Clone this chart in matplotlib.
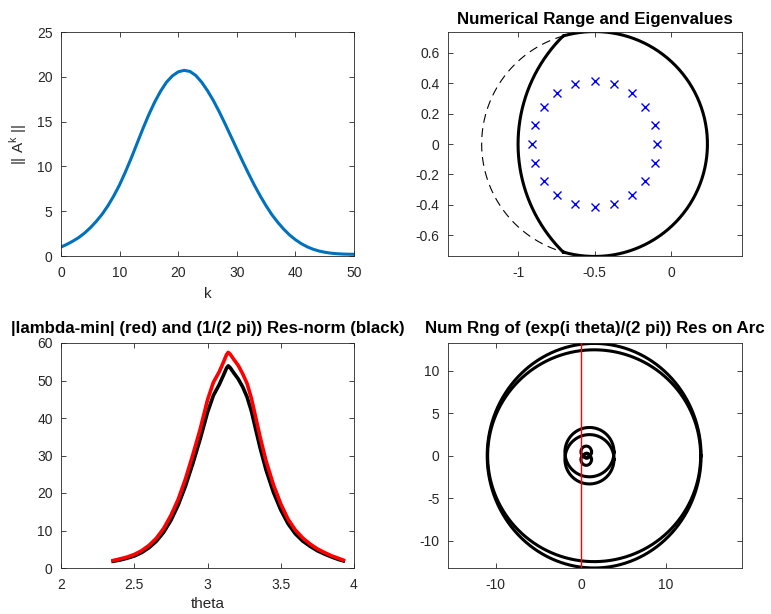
import numpy as np
import matplotlib
matplotlib.use("Agg")
import matplotlib.pyplot as plt

plt.rcParams['font.family'] = ['Liberation Sans', 'DejaVu Sans']
plt.rcParams['font.size'] = 10
plt.rcParams['axes.unicode_minus'] = False
AX_COL = '#262626'
plt.rcParams['axes.edgecolor'] = AX_COL
plt.rcParams['axes.linewidth'] = 0.6
plt.rcParams['xtick.color'] = AX_COL
plt.rcParams['ytick.color'] = AX_COL
plt.rcParams['xtick.direction'] = 'in'
plt.rcParams['ytick.direction'] = 'in'
plt.rcParams['xtick.top'] = True
plt.rcParams['ytick.right'] = True
plt.rcParams['xtick.major.size'] = 3.5
plt.rcParams['ytick.major.size'] = 3.5
plt.rcParams['xtick.major.width'] = 0.6
plt.rcParams['ytick.major.width'] = 0.6
plt.rcParams['xtick.major.pad'] = 7
plt.rcParams['ytick.major.pad'] = 6

# ---- power norms ||A^k||, k = 0..50 ----
k_vals = list(range(51))
power_norms = [1.00, 1.30, 1.65, 2.05, 2.55, 3.15, 3.85, 4.65, 5.60, 6.70,
               7.95, 9.40, 10.95, 12.6, 14.25, 15.8, 17.2, 18.4, 19.4, 20.1,
               20.55, 20.72, 20.6, 20.15, 19.4, 18.45, 17.35, 16.1, 14.75, 13.35,
               11.95, 10.55, 9.2, 7.9, 6.7, 5.6, 4.6, 3.75, 3.0, 2.35,
               1.82, 1.38, 1.03, 0.76, 0.56, 0.42, 0.32, 0.26, 0.22, 0.20, 0.19]

# ---- eigenvalues ----
eig_re = [-0.090, -0.108, -0.167, -0.256, -0.371, -0.500, -0.629, -0.744,
          -0.833, -0.892, -0.910, -0.892, -0.833, -0.744, -0.629, -0.500,
          -0.371, -0.256, -0.167, -0.108]
eig_im = [0.000, 0.127, 0.243, 0.333, 0.392, 0.414, 0.392, 0.333,
          0.243, 0.127, 0.000, -0.127, -0.243, -0.333, -0.392, -0.414,
          -0.392, -0.333, -0.243, -0.127]

# numerical range: outer disc (centre, radius) and unit-disc cut-off
range_center = -0.5
range_radius = 0.738
cut_center = 0.0
cut_radius = 1.0

# ---- lambda-min and scaled resolvent norm along the arc ----
theta_vals = [2.356, 2.40, 2.45, 2.50, 2.55, 2.60, 2.65, 2.70, 2.75, 2.80,
              2.85, 2.90, 2.95, 3.00, 3.04, 3.08, 3.11, 3.13, 3.1416, 3.155,
              3.18, 3.21, 3.24, 3.27, 3.30, 3.33, 3.36, 3.40, 3.45, 3.50,
              3.55, 3.60, 3.65, 3.70, 3.75, 3.80, 3.85, 3.90, 3.927]
lambda_min = [2.0, 2.4, 2.9, 3.6, 4.6, 6.0, 7.9, 10.5, 14.0, 18.3,
              23.8, 30.2, 37.0, 44.8, 49.5, 52.3, 55.0, 56.9, 57.5, 57.0,
              55.6, 54.0, 51.8, 49.2, 45.2, 40.0, 34.8, 28.5, 22.2, 17.1,
              13.0, 10.1, 8.0, 6.4, 5.1, 4.1, 3.2, 2.5, 2.1]
res_norm = [1.8, 2.1, 2.6, 3.2, 4.1, 5.4, 7.1, 9.5, 12.7, 16.8,
            21.9, 27.9, 34.4, 41.5, 46.0, 48.9, 51.5, 53.3, 53.9, 53.4,
            52.0, 50.4, 48.3, 45.6, 41.8, 36.8, 31.9, 26.1, 20.2, 15.5,
            11.8, 9.1, 7.2, 5.8, 4.6, 3.7, 2.9, 2.2, 1.9]

# ---- numerical ranges of scaled resolvents (approx. ellipses) ----
nr_cx = [1.55, 1.55, 1.0, 1.0, 0.62, 0.62, 0.68]
nr_cy = [0.0, 0.0, 0.42, -0.42, 0.45, -0.45, 0.0]
nr_rx = [12.55, 12.5, 2.88, 2.88, 0.62, 0.62, 0.3]
nr_ry = [13.2, 12.45, 2.9, 2.9, 0.68, 0.68, 0.3]

fig = plt.figure(figsize=(7.71, 6.14), dpi=100)
W, H = 771, 614
TITLE_KW = dict(fontsize=12.2, fontweight='bold', color='black')


def add_axes(x0, y0, x1, y1):
    return fig.add_axes([x0 / W, 1 - y1 / H, (x1 - x0) / W, (y1 - y0) / H])


# top-left: growth of ||A^k||
ax1 = add_axes(61, 32, 354, 256)
ax1.plot(k_vals, power_norms, color=(0, 0.447, 0.741), lw=2.2)
ax1.set_xlim(0, 50)
ax1.set_ylim(0, 25)
ax1.set_xticks([0, 10, 20, 30, 40, 50])
ax1.set_yticks([0, 5, 10, 15, 20, 25])
ax1.set_xlabel('k', fontsize=11, color=AX_COL, labelpad=5)
ax1.set_ylabel(r'|| A$^{\mathregular{k}}$ ||', fontsize=11, color=AX_COL, labelpad=6)

# top-right: numerical range boundary and eigenvalues
ax2 = add_axes(448, 32, 742, 256)
t_right = np.linspace(-np.radians(105.8), np.radians(105.8), 300)
t_left = np.linspace(np.radians(134.6), np.radians(225.4), 200)
t_dash = np.linspace(np.radians(105.8), np.radians(254.2), 300)
bx = np.concatenate([range_center + range_radius * np.cos(t_right),
                     cut_center + cut_radius * np.cos(t_left),
                     range_center + range_radius * np.cos(t_right[:1])])
by = np.concatenate([range_radius * np.sin(t_right),
                     cut_radius * np.sin(t_left),
                     range_radius * np.sin(t_right[:1])])
ax2.plot(bx, by, color='black', lw=2.2)
ax2.plot(range_center + range_radius * np.cos(t_dash), range_radius * np.sin(t_dash),
         color='black', lw=0.8, dashes=(8, 5))
ax2.plot(eig_re, eig_im, 'x', color='blue', ms=6, mew=1.0)
ax2.set_xlim(-1.458, 0.464)
ax2.set_ylim(-0.735, 0.735)
ax2.set_xticks([-1, -0.5, 0])
ax2.set_xticklabels(['-1', '-0.5', '0'])
ax2.set_yticks([-0.6, -0.4, -0.2, 0, 0.2, 0.4, 0.6])
ax2.set_yticklabels(['-0.6', '-0.4', '-0.2', '0', '0.2', '0.4', '0.6'])
ax2.set_title('Numerical Range and Eigenvalues', pad=6, **TITLE_KW)

# bottom-left: |lambda-min| and scaled resolvent norm
ax3 = add_axes(61, 343, 354, 568)
ax3.plot(theta_vals, res_norm, color='black', lw=2.6)
ax3.plot(theta_vals, lambda_min, color='red', lw=2.6)
ax3.set_xlim(2, 4)
ax3.set_ylim(0, 60)
ax3.set_xticks([2, 2.5, 3, 3.5, 4])
ax3.set_xticklabels(['2', '2.5', '3', '3.5', '4'])
ax3.set_yticks([0, 10, 20, 30, 40, 50, 60])
ax3.set_xlabel('theta', fontsize=11, color=AX_COL, labelpad=4)
ax3.set_title('|lambda-min| (red) and (1/(2 pi)) Res-norm (black)', pad=7, **TITLE_KW)

# bottom-right: numerical ranges along the arc
ax4 = add_axes(448, 343, 742, 568)
t_full = np.linspace(0, 2 * np.pi, 400)
for cx, cy, rx, ry in zip(nr_cx, nr_cy, nr_rx, nr_ry):
    ax4.plot(cx + rx * np.cos(t_full), cy + ry * np.sin(t_full), color='black', lw=2.2)
ax4.axvline(0, color='red', lw=1.0, zorder=5)
ax4.set_xlim(-15.6, 18.9)
ax4.set_ylim(-13.2, 13.25)
ax4.set_xticks([-10, 0, 10])
ax4.set_yticks([-10, -5, 0, 5, 10])
ax4.set_title('Num Rng of (exp(i theta)/(2 pi)) Res on Arc', pad=7, **TITLE_KW)

fig.savefig('out.png', dpi=100)
